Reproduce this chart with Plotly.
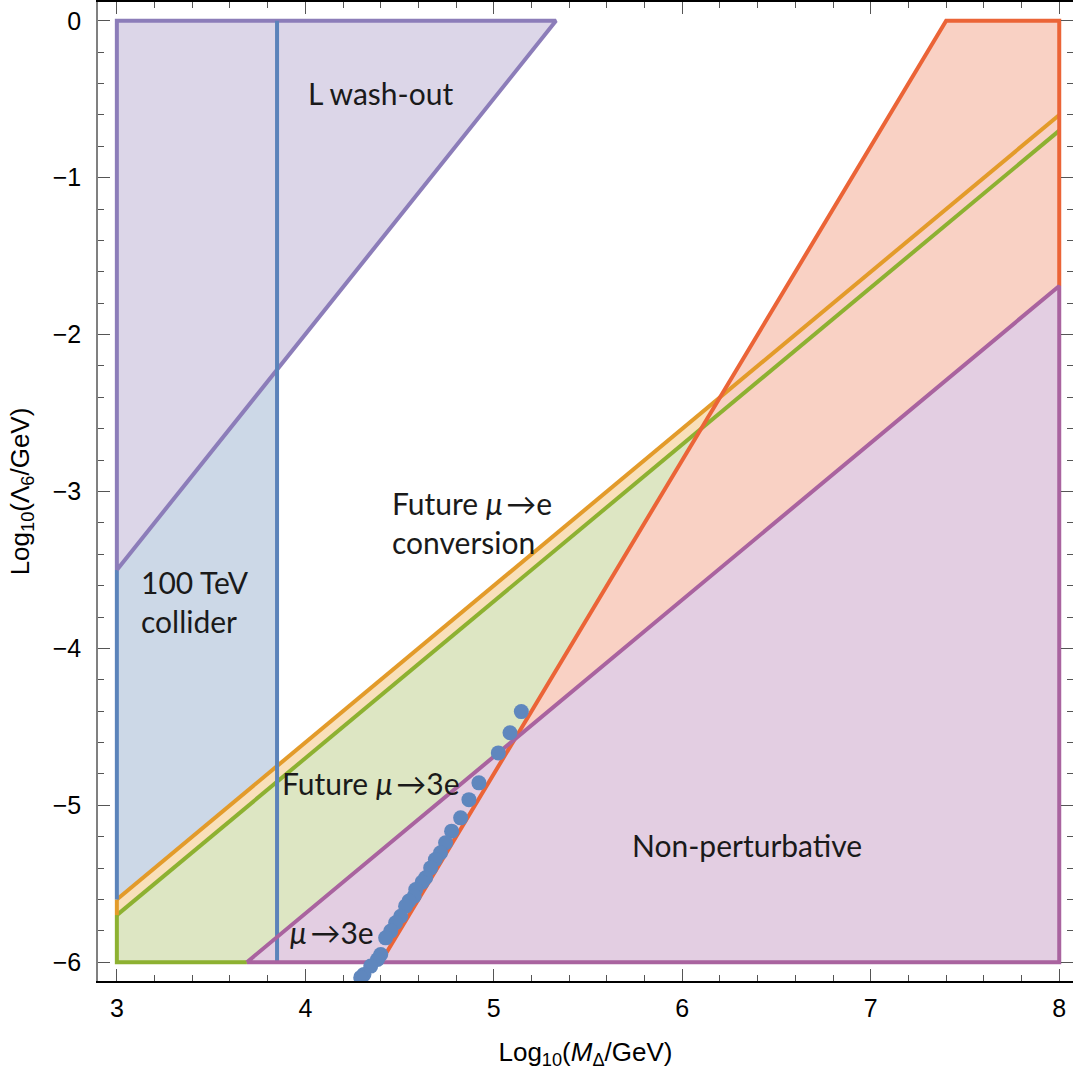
import plotly.graph_objects as go

# ---- region boundaries ----
collider_x = [3.0, 3.85, 3.85, 3.0]
collider_y = [-6.0, -6.0, 0.0, 0.0]

washout_x = [3.0, 3.0, 5.33]
washout_y = [-3.5, 0.0, 0.0]

mue_x = [3.0, 8.0]          # future mu->e conversion (orange)
mue_y = [-5.6, -0.6]

mu3e_fut_x = [3.0, 8.0]     # future mu->3e (green)
mu3e_fut_y = [-5.7, -0.7]

mu3e_x = [4.4, 7.4, 8.0, 8.0]   # current mu->3e (red)
mu3e_y = [-6.0, 0.0, 0.0, -6.0]

nonpert_x = [3.69, 8.0, 8.0]
nonpert_y = [-6.0, -1.69, -6.0]

# ---- scan points ----
pts_x = [5.146, 5.086, 5.024, 4.921, 4.868, 4.824, 4.776, 4.744, 4.717, 4.69,
         4.665, 4.638, 4.62, 4.586, 4.577, 4.55, 4.532, 4.506, 4.479, 4.453,
         4.426, 4.4, 4.383, 4.347, 4.311, 4.294]
pts_y = [-4.403, -4.538, -4.666, -4.857, -4.964, -5.08, -5.165, -5.239, -5.303, -5.346,
         -5.399, -5.462, -5.49, -5.537, -5.58, -5.61, -5.643, -5.707, -5.749, -5.802,
         -5.845, -5.951, -5.983, -6.025, -6.078, -6.097]

xticks = [3, 4, 5, 6, 7, 8]
yticks = [0, -1, -2, -3, -4, -5, -6]
ytick_text = ["0", "\u22121", "\u22122", "\u22123", "\u22124", "\u22125", "\u22126"]

C_WASH_L, C_WASH_F = "#8C7DB9", "#DCD6E8"
C_COL_L, C_COL_F = "#5B83BA", "#CCD8E7"
C_OR_L, C_OR_F = "#E39B2A", "#F9E0BA"
C_GR_L, C_GR_F = "#8DB131", "#DDE6C3"
C_RED_L, C_RED_F = "#EB6437", "#F9D1C4"
C_NP_L, C_NP_F = "#A9639F", "#E3CEE2"
LW = 4

fig = go.Figure()

def fill(xs, ys, color):
    fig.add_trace(go.Scatter(x=xs, y=ys, mode="lines", fill="toself", fillcolor=color,
                             line=dict(width=0, color=color), hoverinfo="skip", showlegend=False))

def line(xs, ys, color):
    fig.add_trace(go.Scatter(x=xs, y=ys, mode="lines", line=dict(width=LW, color=color),
                             hoverinfo="skip", showlegend=False))

# fills
fill(collider_x, collider_y, C_COL_F)
fill(washout_x, washout_y, C_WASH_F)
fill([mu3e_fut_x[0]] + mu3e_fut_x + [mu3e_fut_x[1]],
     [-6.0] + mu3e_fut_y + [-6.0], C_GR_F)
fill(mue_x + mu3e_fut_x[::-1], mue_y + mu3e_fut_y[::-1], C_OR_F)
fill(mu3e_x, mu3e_y, C_RED_F)
fill(nonpert_x, nonpert_y, C_NP_F)

# boundary lines
line([mu3e_fut_x[0], mu3e_fut_x[0], nonpert_x[0]], [mu3e_fut_y[0], -6.0, -6.0], C_GR_L)
line(mu3e_fut_x, mu3e_fut_y, C_GR_L)
line([mue_x[0], mue_x[0]], [mue_y[0], mu3e_fut_y[0]], C_OR_L)
line(mue_x, mue_y, C_OR_L)
line([collider_x[0], collider_x[0]], [washout_y[0], mue_y[0]], C_COL_L)
line(washout_x + [washout_x[0]], washout_y + [washout_y[0]], C_WASH_L)
line([collider_x[1], collider_x[2]], [collider_y[1], collider_y[2]], C_COL_L)
line(mu3e_x[:3] + [8.0], mu3e_y[:3] + [nonpert_y[1]], C_RED_L)
line(nonpert_x + [nonpert_x[0]], nonpert_y + [nonpert_y[0]], C_NP_L)

# scan points
fig.add_trace(go.Scatter(x=pts_x, y=pts_y, mode="markers",
                         marker=dict(size=15, color="#5F87BE"),
                         hoverinfo="skip", showlegend=False))

LF = dict(family="Lato", size=30, color="#1a1a1a")
labels = [
    (4.40, -0.46, "L wash-out", "center"),
    (3.12, -3.70, "100 TeV<br>collider", "left"),
    (4.45, -3.20, "Future <i>μ</i>\u2009→e<br>conversion", "left"),
    (4.35, -4.855, "Future <i>μ</i>\u2009→3e", "center"),
    (4.14, -5.81, "<i>μ</i>\u2009→3e", "center"),
    (6.344, -5.25, "Non-perturbative", "center"),
]
for x, y, t, al in labels:
    fig.add_annotation(x=x, y=y, text=t, showarrow=False, font=LF,
                       xanchor="left" if al == "left" else "center", align=al, yanchor="middle")

axis_common = dict(ticks="inside", ticklen=12, tickwidth=1, tickcolor="#555",
                   showgrid=False, zeroline=False, showline=True, mirror="ticks",
                   automargin=False,
                   tickfont=dict(family="Liberation Sans", size=25, color="black"),
                   minor=dict(ticks="inside", ticklen=6, tickwidth=1, tickcolor="#555", dtick=0.2))

fig.update_xaxes(range=[2.9, 8.073], tickvals=xticks, ticktext=[str(v) for v in xticks],
                 linecolor="black", linewidth=1.5, ticklabelstandoff=4,
                 title=dict(text="Log<sub>10</sub>(<i>M</i><sub>Δ</sub>/GeV)",
                            font=dict(family="Liberation Sans", size=26, color="black"), standoff=22),
                 **axis_common)
fig.update_yaxes(range=[-6.12, 0.12], tickvals=yticks, ticktext=ytick_text,
                 linecolor="#808080", linewidth=1.5, ticklabelstandoff=10,
                 title=dict(text="Log<sub>10</sub>(Λ<sub>6</sub>/GeV)",
                            font=dict(family="Liberation Sans", size=26, color="black"), standoff=16),
                 **axis_common)

fig.update_layout(width=1073, height=1075, margin=dict(l=98, r=0, t=2, b=94),
                  plot_bgcolor="white", paper_bgcolor="white")

fig.write_html("out.html", config={"displayModeBar": False},
               post_script="document.body.style.margin='0';")
